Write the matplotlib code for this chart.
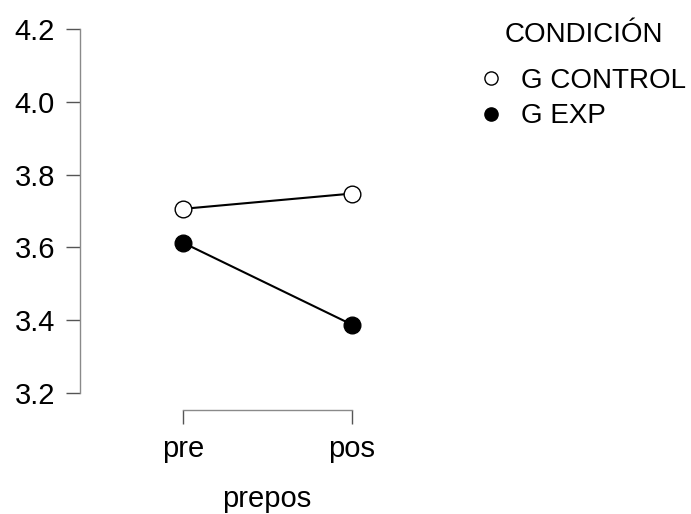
import matplotlib.pyplot as plt
from matplotlib.lines import Line2D

plt.rcParams['font.family'] = ['Liberation Sans', 'DejaVu Sans']

momentos = ["pre", "pos"]
g_control = [3.706, 3.748]
g_exp = [3.613, 3.388]
yticks = [3.2, 3.4, 3.6, 3.8, 4.0, 4.2]

fig = plt.figure(figsize=(6.91, 5.14), dpi=100)
ax = fig.add_axes([80 / 691, 104 / 514, 373 / 691, 399 / 514])

x = list(range(len(momentos)))
ax.plot(x, g_control, color='black', lw=1.5, marker='o', ms=12,
        mfc='white', mec='black', mew=1.0, zorder=3)
ax.plot(x, g_exp, color='black', lw=1.5, marker='o', ms=12,
        mfc='black', mec='black', mew=1.0, zorder=3)

ax.set_xlim(-0.61, 1.6)
ax.set_ylim(3.153, 4.25)
ax.set_xticks(x)
ax.set_xticklabels(momentos)
ax.set_yticks(yticks)
ax.set_yticklabels([f"{v:.1f}" for v in yticks])

for s in ['top', 'right']:
    ax.spines[s].set_visible(False)
ax.spines['left'].set_bounds(3.2, 4.2)
ax.spines['bottom'].set_bounds(0, 1)
for s in ['left', 'bottom']:
    ax.spines[s].set_color('#8a8a8a')
    ax.spines[s].set_linewidth(1.0)
ax.tick_params(axis='both', colors='#555555', length=10, width=1.0,
               labelsize=21, labelcolor='black', pad=8)

ax.set_xlabel("prepos", fontsize=21, labelpad=16)

handles = [
    Line2D([], [], ls='none', marker='o', ms=9.5, mfc='white', mec='black', mew=1.0),
    Line2D([], [], ls='none', marker='o', ms=9.5, mfc='black', mec='black', mew=1.0),
]
leg = fig.legend(handles, ["G CONTROL", "G EXP"], title="CONDICIÓN",
                 loc='upper left', bbox_to_anchor=(470 / 691, 1 - 11 / 514),
                 frameon=False, fontsize=20, title_fontsize=20,
                 handlelength=0.7, handletextpad=0.75, labelspacing=0.35,
                 borderaxespad=0)
leg._legend_box.sep = 14

fig.savefig("out.png", dpi=100)
